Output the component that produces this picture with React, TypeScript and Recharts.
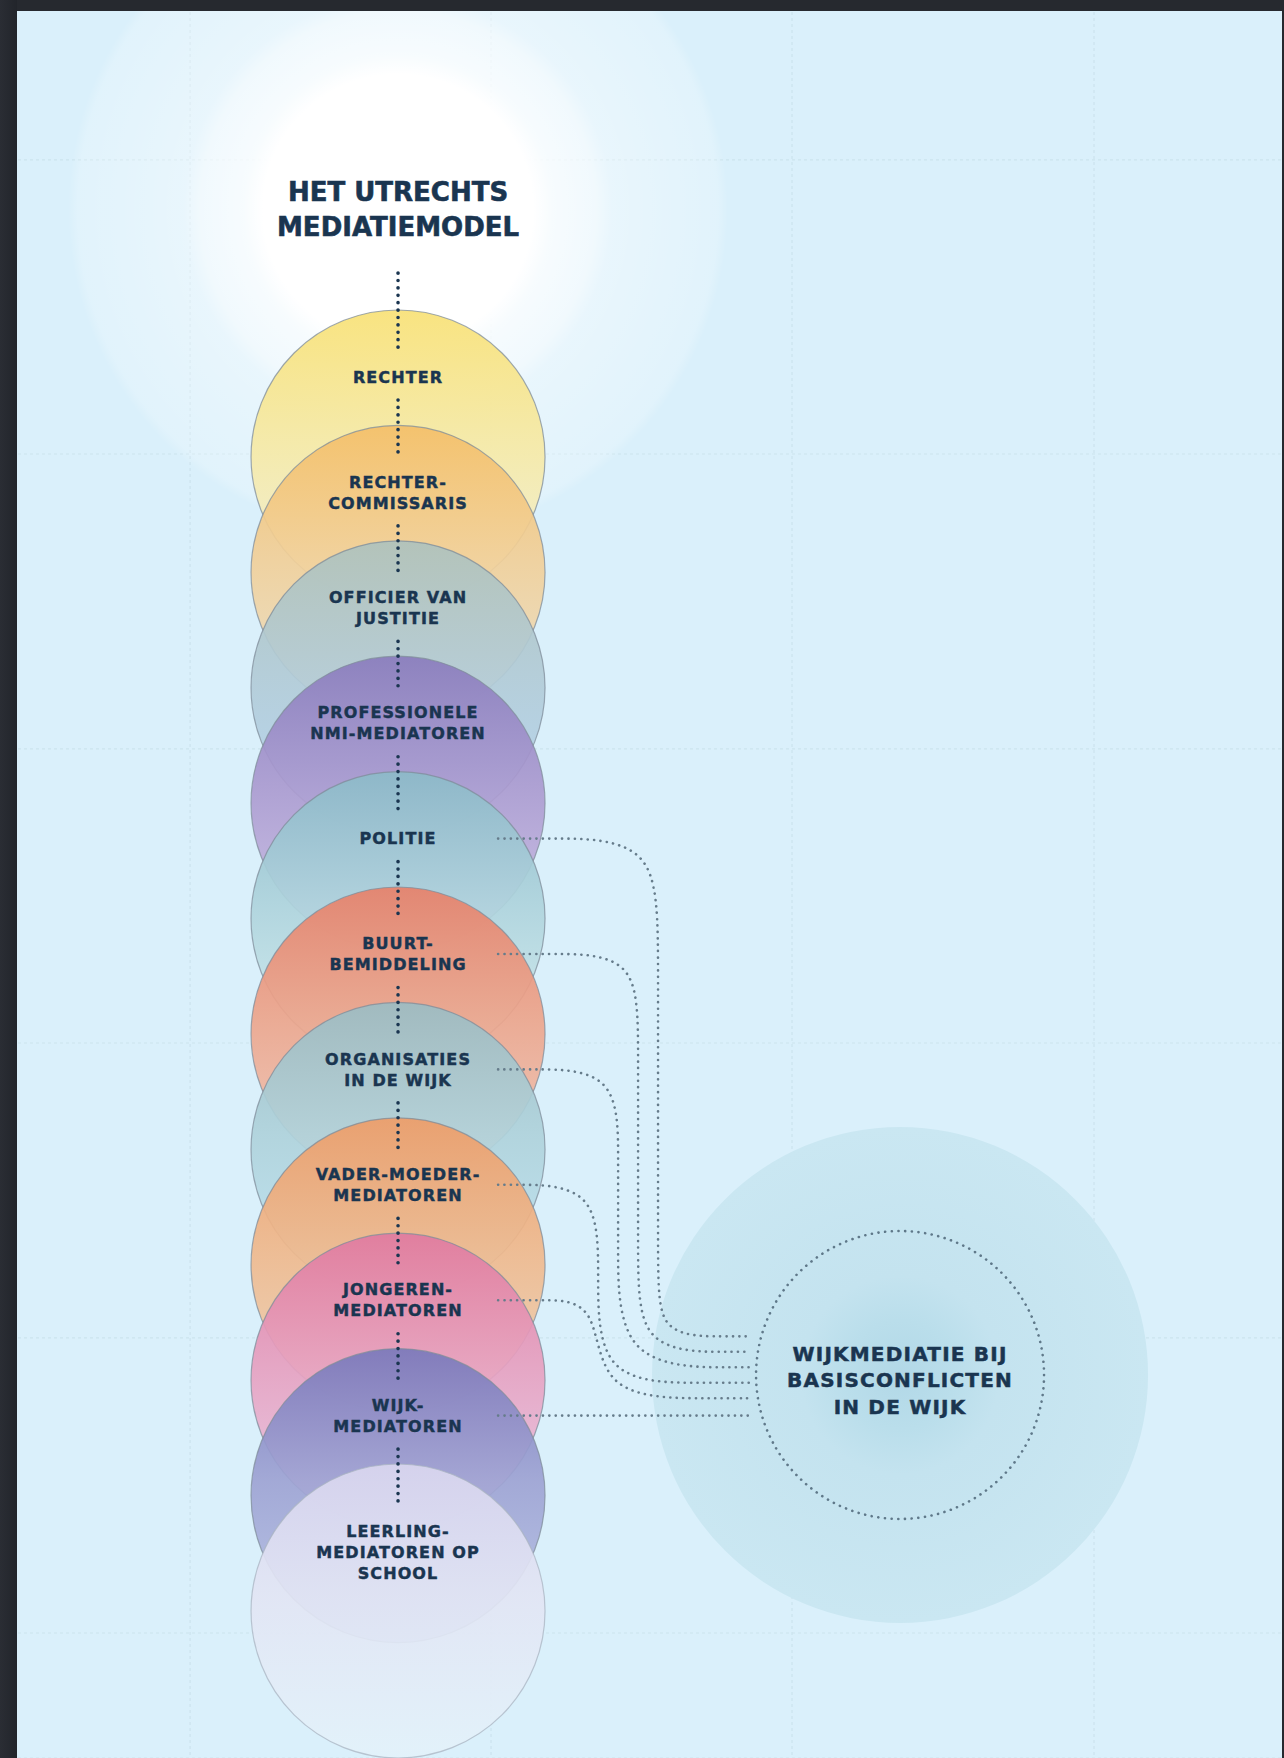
import React from 'react';
import { ComposedChart, XAxis, YAxis, Scatter, Line, CartesianGrid } from 'recharts';

// ---------- DATA ----------
const titleLines: string[] = ['HET UTRECHTS', 'MEDIATIEMODEL'];

const levelLabels: string[][] = [
  ['RECHTER'],
  ['RECHTER-', 'COMMISSARIS'],
  ['OFFICIER VAN', 'JUSTITIE'],
  ['PROFESSIONELE', 'NMI-MEDIATOREN'],
  ['POLITIE'],
  ['BUURT-', 'BEMIDDELING'],
  ['ORGANISATIES', 'IN DE WIJK'],
  ['VADER-MOEDER-', 'MEDIATOREN'],
  ['JONGEREN-', 'MEDIATOREN'],
  ['WIJK-', 'MEDIATOREN'],
  ['LEERLING-', 'MEDIATOREN OP', 'SCHOOL'],
];

const hubLabel: string[] = ['WIJKMEDIATIE BIJ', 'BASISCONFLICTEN', 'IN DE WIJK'];

// levels (index into levelLabels) that are linked to the hub
const linkedLevels: number[] = [4, 5, 6, 7, 8, 9];

// background grid ticks (data units: one unit = one step of the stack)
const gridX: number[] = [-1.802, 0.806, 3.414, 6.031];
const gridY: number[] = [-2.574, -0.026, 2.53, 5.078, 7.634, 10.191];

// ---------- STYLES ----------
const levelColors: string[][] = [
  ['#f8e176', '#f6e9a4', '#f2efd6'],
  ['#f4bf69', '#f1cf98', '#ebe0c8'],
  ['#aec2bd', '#b2cbd6', '#b5d5f2'],
  ['#8a7cbd', '#ab9bd0', '#cfc1e6'],
  ['#8cbac8', '#aed3dc', '#d5eef0'],
  ['#e7816a', '#eca58c', '#f2cab9'],
  ['#9bbcc3', '#afd2db', '#c0e5f3'],
  ['#ee9d68', '#efb88c', '#eed4b8'],
  ['#e07aa0', '#e6a0c0', '#ebc9e4'],
  ['#7a79bb', '#9ea3d3', '#b8c4e6'],
  ['#d9d6ef', '#e2e5f4', '#e3f2fa'],
];
const TEXT = '#1a3550';
const FONT = "'DejaVu Sans', Verdana, sans-serif";

// ---------- LAYOUT ----------
const CHART_W = 1284;
const CHART_H = 1758;
const X_DOMAIN: [number, number] = [-3.449, 7.677];
const Y_DOMAIN: [number, number] = [-3.96, 11.274];
const UNIT_PX = CHART_H / (Y_DOMAIN[1] - Y_DOMAIN[0]);

const COLUMN_X = 0;
const LABEL_OFFSET = -0.693;
const TITLE_Y = -2.145;
const COLUMN_TOP = -1.594;
const LINK_START_X = 0.867;
const LINK_END_X = 3.05;
const LANE0 = 2.253;
const LANE_GAP = 0.173;
const HUB_X = 4.35;
const HUB_Y = 7.955;
const END_GAP = 0.134;
const CORNER_OUTER = 0.97;
const CORNER_INNER = 0.78;
const BEND_CENTER_Y = HUB_Y - 0.675;
const BEND_SCALE = 1.75;

const R_LEVEL = 147;
const LABEL_FS = 16;
const LINE_H = 21;

const labelAnchor = (i: number) => i + LABEL_OFFSET;
const labelTop = (i: number) => {
  const n = levelLabels[i].length;
  const a = labelAnchor(i);
  if (n === 3) return a - 7 / UNIT_PX;
  return a - (((n - 1) / 2) * LINE_H + 7) / UNIT_PX;
};
const labelBottom = (i: number) => {
  const n = levelLabels[i].length;
  const a = labelAnchor(i);
  if (n === 3) return a + (2 * LINE_H + 7) / UNIT_PX;
  return a + (((n - 1) / 2) * LINE_H + 7) / UNIT_PX;
};

const glowData = [{ x: COLUMN_X, y: TITLE_Y, lines: titleLines }];
const circleData = levelLabels.map((l, i) => ({ x: COLUMN_X, y: i, idx: i }));
const labelData = levelLabels.map((l, i) => ({ x: COLUMN_X, y: labelAnchor(i), lines: l }));
const hubData = [{ x: HUB_X, y: HUB_Y, lines: hubLabel }];

const GAP = 16 / UNIT_PX;
const columnSegments: { x: number; y: number }[][] = levelLabels.map((l, i) => {
  const start = i === 0 ? COLUMN_TOP : labelBottom(i - 1) + GAP;
  const end = labelTop(i) - GAP;
  return [
    { x: COLUMN_X, y: start },
    { x: COLUMN_X, y: end },
  ];
});

const connectors: { x: number; y: number }[][] = linkedLevels.map((lvl, k) => {
  const y0 = labelAnchor(lvl);
  if (k === linkedLevels.length - 1) {
    return [
      { x: LINK_START_X, y: y0 },
      { x: LINK_END_X, y: y0 },
    ];
  }
  const lane = LANE0 - Math.min(k, 3) * LANE_GAP;
  const y1 = HUB_Y + (k - 2.5) * END_GAP;
  const d1 = k === 0 ? CORNER_OUTER : CORNER_INNER;
  const pts = [
    { x: LINK_START_X, y: y0 },
    { x: lane - d1, y: y0 },
    { x: lane, y: y0 },
  ];
  if (y1 - y0 > d1 + 0.3) {
    const d2 = Math.min((y1 - BEND_CENTER_Y) * BEND_SCALE, y1 - y0 - d1);
    pts.push({ x: lane, y: y0 + d1 });
    if (y1 - d2 > y0 + d1 + 0.01) pts.push({ x: lane, y: y1 - d2 });
    pts.push({ x: lane, y: y1 });
    pts.push({ x: Math.min(lane + d2, LINK_END_X - 0.05), y: y1 });
  } else {
    pts[1] = { x: lane - 0.5, y: y0 };
    pts.push({ x: lane, y: y1 });
    pts.push({ x: lane + 1.0, y: y1 });
  }
  pts.push({ x: LINK_END_X, y: y1 });
  return pts;
});

// ---------- SHAPES ----------
const GlowShape = (props: any) => {
  const { cx, cy, payload } = props;
  const lines: string[] = payload.lines;
  return (
    <g>
      <defs>
        <radialGradient id="topGlow" cx="50%" cy="50%" r="50%">
          <stop offset="0" stopColor="#ffffff" stopOpacity={1} />
          <stop offset="0.41" stopColor="#ffffff" stopOpacity={1} />
          <stop offset="0.47" stopColor="#ffffff" stopOpacity={0.78} />
          <stop offset="0.6" stopColor="#ffffff" stopOpacity={0.62} />
          <stop offset="0.65" stopColor="#ffffff" stopOpacity={0.4} />
          <stop offset="0.8" stopColor="#ffffff" stopOpacity={0.3} />
          <stop offset="0.97" stopColor="#ffffff" stopOpacity={0.2} />
          <stop offset="1" stopColor="#ffffff" stopOpacity={0} />
        </radialGradient>
      </defs>
      <circle cx={cx} cy={cy} r={330} fill="url(#topGlow)" />
      {lines.map((t, j) => (
        <text
          key={j}
          x={cx}
          y={cy + (j - (lines.length - 1) / 2) * 35 + 9.5}
          textAnchor="middle"
          fontFamily={FONT}
          fontWeight={700}
          fontSize={26}
          fill={TEXT}
          stroke={TEXT}
          strokeWidth={0.6}
        >
          {t}
        </text>
      ))}
    </g>
  );
};

const CircleShape = (props: any) => {
  const { cx, cy, payload } = props;
  const i: number = payload.idx;
  const c = levelColors[i];
  const id = `lvlGrad${i}`;
  const last = i === levelColors.length - 1;
  return (
    <g>
      <defs>
        <linearGradient id={id} x1="0" y1="0" x2="0" y2="1">
          <stop offset="0" stopColor={c[0]} />
          <stop offset="0.45" stopColor={c[1]} />
          <stop offset="1" stopColor={c[2]} />
        </linearGradient>
      </defs>
      <circle
        cx={cx}
        cy={cy}
        r={R_LEVEL}
        fill={`url(#${id})`}
        fillOpacity={0.92}
        stroke={last ? '#a9b4c2' : '#7f8c99'}
        strokeOpacity={0.75}
        strokeWidth={1.2}
      />
    </g>
  );
};

const LabelShape = (props: any) => {
  const { cx, cy, payload } = props;
  const lines: string[] = payload.lines;
  const n = lines.length;
  return (
    <g>
      {lines.map((t, j) => {
        const ly = n === 3 ? cy + j * LINE_H : cy + (j - (n - 1) / 2) * LINE_H;
        return (
          <text
            key={j}
            x={cx}
            y={ly + LABEL_FS * 0.36}
            textAnchor="middle"
            fontFamily={FONT}
            fontWeight={700}
            fontSize={LABEL_FS}
            letterSpacing={1.1}
            fill={TEXT}
            stroke={TEXT}
            strokeWidth={0.45}
          >
            {t}
          </text>
        );
      })}
    </g>
  );
};

const HubShape = (props: any) => {
  const { cx, cy, payload } = props;
  const lines: string[] = payload.lines;
  return (
    <g>
      <defs>
        <radialGradient id="hubGlow" cx="50%" cy="50%" r="50%">
          <stop offset="0" stopColor="#b2d8e7" />
          <stop offset="0.22" stopColor="#badeeb" />
          <stop offset="0.4" stopColor="#c4e3ef" />
          <stop offset="1" stopColor="#cae7f2" />
        </radialGradient>
      </defs>
      <circle cx={cx} cy={cy} r={248} fill="url(#hubGlow)" />
      <circle
        cx={cx}
        cy={cy}
        r={144}
        fill="none"
        stroke="#5f7889"
        strokeWidth={2.6}
        strokeDasharray="0.1 6.6"
        strokeLinecap="round"
      />
      {lines.map((t, j) => (
        <text
          key={j}
          x={cx}
          y={cy + 5 + (j - (lines.length - 1) / 2) * 26.5 + 20 * 0.36}
          textAnchor="middle"
          fontFamily={FONT}
          fontWeight={700}
          fontSize={20}
          letterSpacing={1.2}
          fill={TEXT}
          stroke={TEXT}
          strokeWidth={0.5}
        >
          {t}
        </text>
      ))}
    </g>
  );
};

export default function App() {
  return (
    <div
      style={{
        position: 'absolute',
        left: 0,
        top: 0,
        width: CHART_W,
        height: CHART_H,
        background: '#daf0fb',
        overflow: 'hidden',
      }}
    >
      <ComposedChart width={CHART_W} height={CHART_H} margin={{ top: 0, right: 0, bottom: 0, left: 0 }}>
        <XAxis type="number" dataKey="x" domain={X_DOMAIN} allowDataOverflow hide ticks={gridX} />
        <YAxis type="number" dataKey="y" domain={Y_DOMAIN} allowDataOverflow hide reversed ticks={gridY} />
        <CartesianGrid stroke="#cce3ee" strokeWidth={1.2} strokeDasharray="3 3" />
        <Scatter data={glowData} shape={GlowShape} isAnimationActive={false} zIndex={100} />
        <Scatter data={circleData} shape={CircleShape} isAnimationActive={false} zIndex={200} />
        <Scatter data={hubData} shape={HubShape} isAnimationActive={false} zIndex={250} />
        {connectors.map((pts, k) => (
          <Line
            key={`c${k}`}
            data={pts}
            dataKey="y"
            type="basis"
            stroke="#667c8b"
            strokeWidth={2.6}
            strokeDasharray="0.1 6.3"
            strokeLinecap="round"
            dot={false}
            activeDot={false}
            isAnimationActive={false}
            zIndex={300}
          />
        ))}
        {columnSegments.map((pts, k) => (
          <Line
            key={`s${k}`}
            data={pts}
            dataKey="y"
            type="linear"
            stroke="#1a3550"
            strokeWidth={3.6}
            strokeDasharray="0.1 7.3"
            strokeLinecap="round"
            dot={false}
            activeDot={false}
            isAnimationActive={false}
            zIndex={300}
          />
        ))}
        <Scatter data={labelData} shape={LabelShape} isAnimationActive={false} zIndex={400} />
      </ComposedChart>
      <div style={{ position: 'absolute', left: 0, top: 0, width: CHART_W, height: 11, background: '#26292f' }} />
      <div
        style={{
          position: 'absolute',
          left: 0,
          top: 0,
          width: 17,
          height: CHART_H,
          background: 'linear-gradient(90deg, #2a2d34, #22252b)',
        }}
      />
      <div style={{ position: 'absolute', right: 0, top: 0, width: 2, height: CHART_H, background: '#26292f' }} />
    </div>
  );
}
